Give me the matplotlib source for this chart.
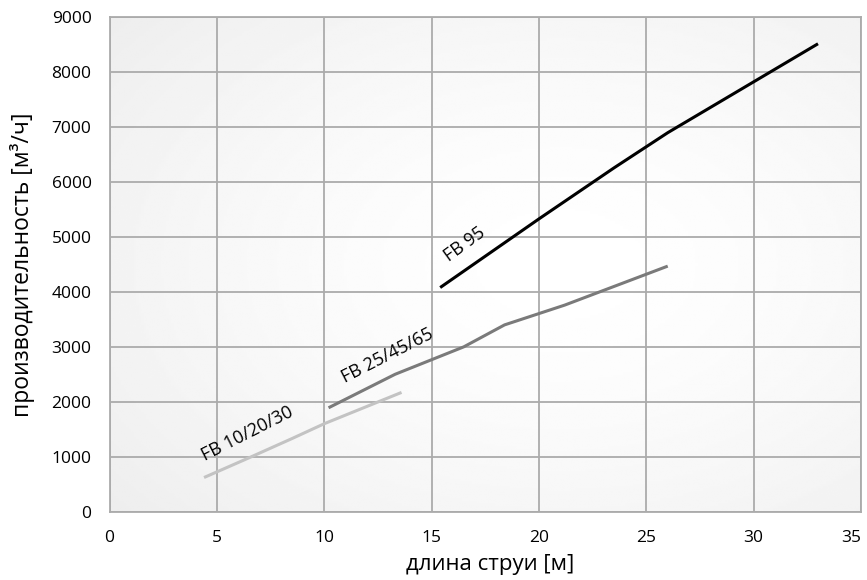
import numpy as np
import matplotlib
matplotlib.use('Agg')
import matplotlib.pyplot as plt

# data
fb95_x = [15.4, 20.0, 23.5, 26.0, 33.0]
fb95_y = [4080, 5330, 6260, 6900, 8520]

fb25_x = [10.2, 13.3, 16.5, 18.4, 21.2, 26.0]
fb25_y = [1890, 2500, 3000, 3400, 3760, 4470]

fb10_x = [4.4, 6.5, 8.5, 10.0, 13.6]
fb10_y = [620, 980, 1330, 1600, 2170]

labels = ['FB 95', 'FB 25/45/65', 'FB 10/20/30']
x_ticks = [0, 5, 10, 15, 20, 25, 30, 35]
y_ticks = [0, 1000, 2000, 3000, 4000, 5000, 6000, 7000, 8000, 9000]

plt.rcParams['font.family'] = ['Open Sans', 'DejaVu Sans']

fig = plt.figure(figsize=(8.67, 5.8), dpi=100)
ax = fig.add_axes([0.1264, 0.118, 0.8666, 0.852])

# radial gradient background of the plot area
gx, gy = np.meshgrid(np.linspace(0, 1, 300), np.linspace(0, 1, 200))
r = np.sqrt(((gx - 0.6) / 0.75) ** 2 + ((gy - 0.5) / 0.75) ** 2)
bg = np.clip(1.0 - 0.065 * r ** 1.5, 0, 1)
ax.imshow(bg, cmap='gray', vmin=0, vmax=1, extent=[0, 1, 0, 1],
          transform=ax.transAxes, aspect='auto', zorder=0, interpolation='bilinear')

ax.plot(fb10_x, fb10_y, color='#c3c3c3', lw=2.2, zorder=3, solid_capstyle='butt')
ax.plot(fb25_x, fb25_y, color='#7a7a7a', lw=2.2, zorder=3, solid_capstyle='butt')
ax.plot(fb95_x, fb95_y, color='black', lw=2.2, zorder=3, solid_capstyle='butt')

ax.text(16.56, 4856, labels[0], rotation=36, ha='center', va='center', fontsize=13, zorder=4)
ax.text(12.93, 2835, labels[1], rotation=27, ha='center', va='center', fontsize=13, zorder=4)
ax.text(6.4, 1413, labels[2], rotation=27, ha='center', va='center', fontsize=13, zorder=4)

ax.set_xlim(0, 35)
ax.set_ylim(0, 9000)
ax.set_xticks(x_ticks)
ax.set_yticks(y_ticks)
ax.grid(True, color='#ababab', lw=1.3, zorder=1)
ax.set_axisbelow(False)
for s in ax.spines.values():
    s.set_color('#ababab')
    s.set_linewidth(1.3)
ax.tick_params(length=0, labelsize=12.5, pad=13)
# keep the last x label inside the picture
ax.get_xticklabels()[-1].set_horizontalalignment('right')

ax.set_xlabel('длина струи [м]', fontsize=16, va='center')
ax.set_ylabel('производительность [м³/ч]', fontsize=16.5, va='center')
ax.xaxis.set_label_coords(0.506, -0.108)
ax.yaxis.set_label_coords(-0.1165, 0.5)

fig.savefig('out.png', dpi=100)
